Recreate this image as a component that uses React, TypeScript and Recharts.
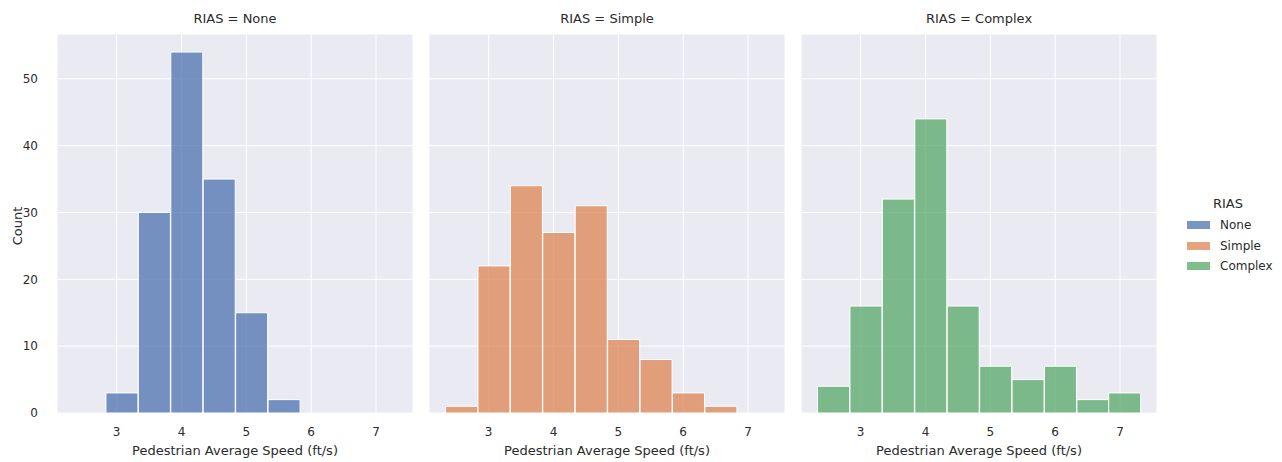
import React from 'react';
import { BarChart, Bar, XAxis, YAxis, CartesianGrid } from 'recharts';

// histogram bins shared by the three facets (bin centres, ft/s)
const binCenters = [2.58, 3.08, 3.58, 4.08, 4.58, 5.08, 5.58, 6.08, 6.58, 7.07];
const noneCounts = [0, 3, 30, 54, 35, 15, 2, 0, 0, 0];
const simpleCounts = [1, 22, 34, 27, 31, 11, 8, 3, 1, 0];
const complexCounts = [4, 16, 32, 44, 16, 7, 5, 7, 2, 3];

const groups = ['None', 'Simple', 'Complex'];
const groupColors = ['#4C72B0', '#DD8452', '#55A868'];
const xTicks = [3, 4, 5, 6, 7];
const yTicks = [0, 10, 20, 30, 40, 50];

const X_DOMAIN: [number, number] = [2.08, 7.57];
const Y_DOMAIN: [number, number] = [0, 56.7];

const PLOT_W = 356;
const PLOT_TOP = 34;
const PLOT_BOTTOM = 413;
const panelLefts = [57, 429, 801];

const font = '"DejaVu Sans", sans-serif';
const textColor = '#2b2b2b';
const bg = '#EAEAF2';

const seriesByGroup = [noneCounts, simpleCounts, complexCounts];

function Panel({ idx }: { idx: number }) {
  const counts = seriesByGroup[idx];
  const data = binCenters.map((x, i) => ({ x, count: counts[i] }));
  const showY = idx === 0;
  const yAxisW = showY ? 57 : 0;
  const left = panelLefts[idx] - yAxisW;
  const width = yAxisW + PLOT_W + 2;

  return (
    <div style={{ position: 'absolute', left, top: 0 }}>
      <BarChart
        width={width}
        height={462}
        data={data}
        margin={{ top: PLOT_TOP, right: 2, bottom: 0, left: 0 }}
        barCategoryGap={0}
        barGap={0}
      >
        <CartesianGrid fill={bg} stroke="#ffffff" strokeWidth={1} />
        <XAxis
          dataKey="x"
          type="number"
          domain={X_DOMAIN}
          ticks={xTicks}
          allowDataOverflow
          height={462 - PLOT_BOTTOM}
          axisLine={false}
          tickLine={false}
          tickSize={0}
          tickMargin={14}
          tick={{ fill: textColor, fontSize: 12, fontFamily: font }}
        />
        <YAxis
          type="number"
          domain={Y_DOMAIN}
          ticks={yTicks}
          allowDataOverflow
          width={yAxisW}
          hide={!showY}
          axisLine={false}
          tickLine={false}
          tickSize={0}
          tickMargin={19}
          tick={{ fill: textColor, fontSize: 12, fontFamily: font }}
        />
        <Bar
          dataKey="count"
          fill={groupColors[idx]}
          fillOpacity={0.75}
          stroke="#ffffff"
          strokeWidth={1}
          isAnimationActive={false}
        />
      </BarChart>
      <div
        style={{
          position: 'absolute',
          left: yAxisW,
          width: PLOT_W,
          top: 11,
          textAlign: 'center',
          fontFamily: font,
          fontSize: 13,
          color: textColor,
          whiteSpace: 'nowrap',
        }}
      >
        RIAS = {groups[idx]}
      </div>
      <div
        style={{
          position: 'absolute',
          left: yAxisW,
          width: PLOT_W,
          top: 443,
          textAlign: 'center',
          fontFamily: font,
          fontSize: 13,
          color: textColor,
          whiteSpace: 'nowrap',
        }}
      >
        Pedestrian Average Speed (ft/s)
      </div>
    </div>
  );
}

export default function App() {
  return (
    <div
      style={{
        position: 'fixed',
        left: 0,
        top: 0,
        width: 1282,
        height: 462,
        background: '#ffffff',
        overflow: 'hidden',
      }}
    >
      {groups.map((g, i) => (
        <Panel key={g} idx={i} />
      ))}
      <div
        style={{
          position: 'absolute',
          left: 7,
          top: 226,
          transform: 'translate(-50%, -50%) rotate(-90deg)',
          marginLeft: 10,
          fontFamily: font,
          fontSize: 13,
          color: textColor,
          whiteSpace: 'nowrap',
        }}
      >
        Count
      </div>
      <div style={{ position: 'absolute', left: 1184, top: 196, fontFamily: font, color: textColor }}>
        <div style={{ fontSize: 13, textAlign: 'center', width: 88, marginBottom: 4 }}>RIAS</div>
        {groups.map((g, i) => (
          <div key={g} style={{ display: 'flex', alignItems: 'center', height: 20.5, fontSize: 12 }}>
            <span
              style={{
                display: 'inline-block',
                width: 23,
                height: 8,
                background: groupColors[i],
                opacity: 0.75,
                marginLeft: 3,
                marginRight: 10,
              }}
            />
            {g}
          </div>
        ))}
      </div>
    </div>
  );
}
